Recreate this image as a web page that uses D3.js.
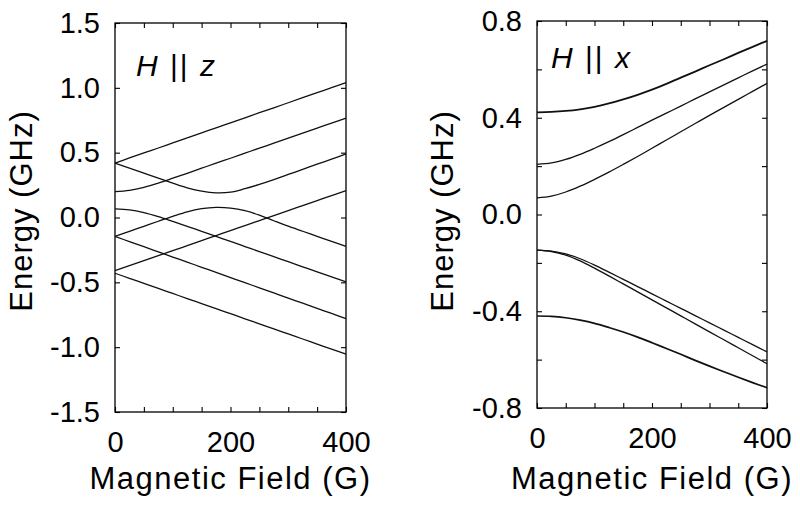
<!DOCTYPE html>
<html><head><meta charset="utf-8">
<script src="https://cdn.jsdelivr.net/npm/d3@7"></script>
<style>
html,body{margin:0;padding:0;background:#fff;}
svg text{font-family:"Liberation Sans",Arial,Helvetica,sans-serif;fill:#000;}
</style></head>
<body><svg id="c" width="800" height="510"></svg>
<script>
// ---- data ----
const field = [0,25,50,75,100,125,150,175,200,225,250,275,300,325,350,375,400];
// H || z
const zLevel1 = [0.420,0.459,0.498,0.536,0.575,0.614,0.653,0.691,0.730,0.769,0.808,0.846,0.885,0.924,0.963,1.001,1.040];
const zLevel2 = [0.200,0.210,0.233,0.266,0.303,0.341,0.380,0.419,0.457,0.496,0.535,0.573,0.612,0.651,0.690,0.728,0.767];
const zLevel3 = [0.420,0.381,0.342,0.303,0.265,0.229,0.203,0.190,0.195,0.222,0.255,0.292,0.332,0.371,0.411,0.450,0.490];
const zLevel4 = [-0.146,-0.107,-0.068,-0.029,0.009,0.044,0.068,0.078,0.073,0.053,0.018,-0.025,-0.067,-0.106,-0.145,-0.184,-0.223];
const zLevel5 = [0.067,0.059,0.038,0.007,-0.030,-0.068,-0.107,-0.146,-0.185,-0.224,-0.263,-0.302,-0.341,-0.380,-0.419,-0.458,-0.497];
const zLevel6 = [-0.146,-0.186,-0.225,-0.265,-0.305,-0.344,-0.384,-0.423,-0.463,-0.503,-0.542,-0.582,-0.622,-0.661,-0.701,-0.740,-0.780];
const zLevel7 = [-0.410,-0.371,-0.333,-0.294,-0.256,-0.217,-0.178,-0.140,-0.101,-0.063,-0.024,0.015,0.053,0.092,0.131,0.169,0.208];
const zLevel8 = [-0.430,-0.469,-0.508,-0.547,-0.586,-0.625,-0.664,-0.703,-0.742,-0.781,-0.820,-0.859,-0.898,-0.937,-0.976,-1.015,-1.054];
// H || x
const xLevel1 = [0.4225,0.424,0.428,0.435,0.445,0.459,0.476,0.495,0.516,0.540,0.566,0.591,0.617,0.642,0.668,0.693,0.718];
const xLevel2 = [0.2075,0.213,0.228,0.249,0.274,0.301,0.330,0.360,0.390,0.419,0.448,0.478,0.507,0.536,0.565,0.594,0.622];
const xLevel3 = [0.069,0.076,0.093,0.117,0.145,0.175,0.207,0.240,0.274,0.308,0.342,0.376,0.410,0.443,0.476,0.509,0.542];
const xLevel4 = [-0.147,-0.151,-0.163,-0.183,-0.209,-0.238,-0.268,-0.298,-0.328,-0.358,-0.388,-0.418,-0.448,-0.478,-0.508,-0.538,-0.568];
const xLevel5 = [-0.147,-0.153,-0.168,-0.192,-0.222,-0.254,-0.287,-0.320,-0.353,-0.386,-0.419,-0.452,-0.485,-0.518,-0.551,-0.584,-0.617];
const xLevel6 = [-0.4196,-0.421,-0.427,-0.437,-0.450,-0.467,-0.486,-0.507,-0.530,-0.554,-0.578,-0.603,-0.627,-0.650,-0.673,-0.695,-0.716];

const xTicks = [0,50,100,150,200,250,300,350,400];
const xTickLabels = [0,200,400];
const yTicksL = [-1.5,-1.0,-0.5,0.0,0.5,1.0,1.5];
const yTicksR = [-0.8,-0.6,-0.4,-0.2,0.0,0.2,0.4,0.6,0.8];
const yTickLabelsR = [-0.8,-0.4,0.0,0.4,0.8];
const xTitle = "Magnetic Field (G)";
const yTitle = "Energy (GHz)";

// ---- drawing ----
const svg = d3.select("#c");
const FS = 29;

function panel(o){
  const g = svg.append("g");
  const x = d3.scaleLinear().domain([0,400]).range([o.x0,o.x1]);
  const y = d3.scaleLinear().domain(o.ydom).range([o.y1,o.y0]);
  const fmtY = d => o.yLabels.some(v=>Math.abs(v-d)<1e-9) ? d3.format(".1f")(d).replace("−","-") : "";
  const fmtX = d => xTickLabels.includes(d) ? String(d) : "";
  const style = s => s.call(a=>a.select(".domain").remove())
     .call(a=>a.selectAll("line").attr("stroke","#000").attr("stroke-width",1.1))
     .call(a=>a.selectAll("text").style("font-size",FS+"px").attr("fill","#000"));
  g.append("g").attr("transform",`translate(0,${o.y1})`)
    .call(d3.axisBottom(x).tickValues(xTicks).tickSize(-5).tickPadding(19).tickFormat(fmtX)).call(style);
  g.append("g").attr("transform",`translate(0,${o.y0})`)
    .call(d3.axisTop(x).tickValues(xTicks).tickSize(-5).tickFormat(()=>"")).call(style);
  g.append("g").attr("transform",`translate(${o.x0},0)`)
    .call(d3.axisLeft(y).tickValues(o.yTicks).tickSize(-5).tickPadding(15).tickFormat(fmtY)).call(style);
  g.append("g").attr("transform",`translate(${o.x1},0)`)
    .call(d3.axisRight(y).tickValues(o.yTicks).tickSize(-5).tickFormat(()=>"")).call(style);
  g.append("rect").attr("x",o.x0).attr("y",o.y0).attr("width",o.x1-o.x0).attr("height",o.y1-o.y0)
    .attr("fill","none").attr("stroke","#000").attr("stroke-width",1.3);
  const line = d3.line().x(d=>x(d[0])).y(d=>y(d[1])).curve(d3.curveCatmullRom.alpha(0.5));
  o.series.forEach(s=>{
    g.append("path").datum(field.map((b,i)=>[b,s.v[i]])).attr("d",line)
      .attr("fill","none").attr("stroke","#111").attr("stroke-width",s.w||1.3);
  });
  // axis titles
  g.append("text").attr("x",(o.x0+o.x1)/2).attr("y",o.xtY).attr("text-anchor","middle")
    .style("font-size","31px").style("letter-spacing","1.5px").text(xTitle);
  g.append("text").attr("transform",`translate(${o.ytX},${o.ytY}) rotate(-90)`).attr("text-anchor","middle")
    .style("font-size","31px").style("letter-spacing","1px").text(yTitle);
  // panel label
  const t = g.append("text").attr("x",o.lx).attr("y",o.ly).style("font-size","30px").style("letter-spacing","2px");
  t.append("tspan").style("font-style","italic").text("H");
  t.append("tspan").text(" || ");
  t.append("tspan").style("font-style","italic").text(o.axisName);
}

panel({x0:115,x1:346,y0:23,y1:412,ydom:[-1.5,1.5],yTicks:yTicksL,yLabels:yTicksL,
  series:[zLevel1,zLevel2,zLevel3,zLevel4,zLevel5,zLevel6,zLevel7,zLevel8].map(v=>({v})),
  xtY:489,ytX:32,ytY:211,lx:136,ly:76,axisName:"z"});
panel({x0:537,x1:767,y0:21,y1:408,ydom:[-0.8,0.8],yTicks:yTicksR,yLabels:yTickLabelsR,
  series:[{v:xLevel1,w:1.8},{v:xLevel2},{v:xLevel3},{v:xLevel4},{v:xLevel5},{v:xLevel6,w:1.7}],
  xtY:489,ytX:453,ytY:211,lx:551,ly:68,axisName:"x"});
</script></body></html>
